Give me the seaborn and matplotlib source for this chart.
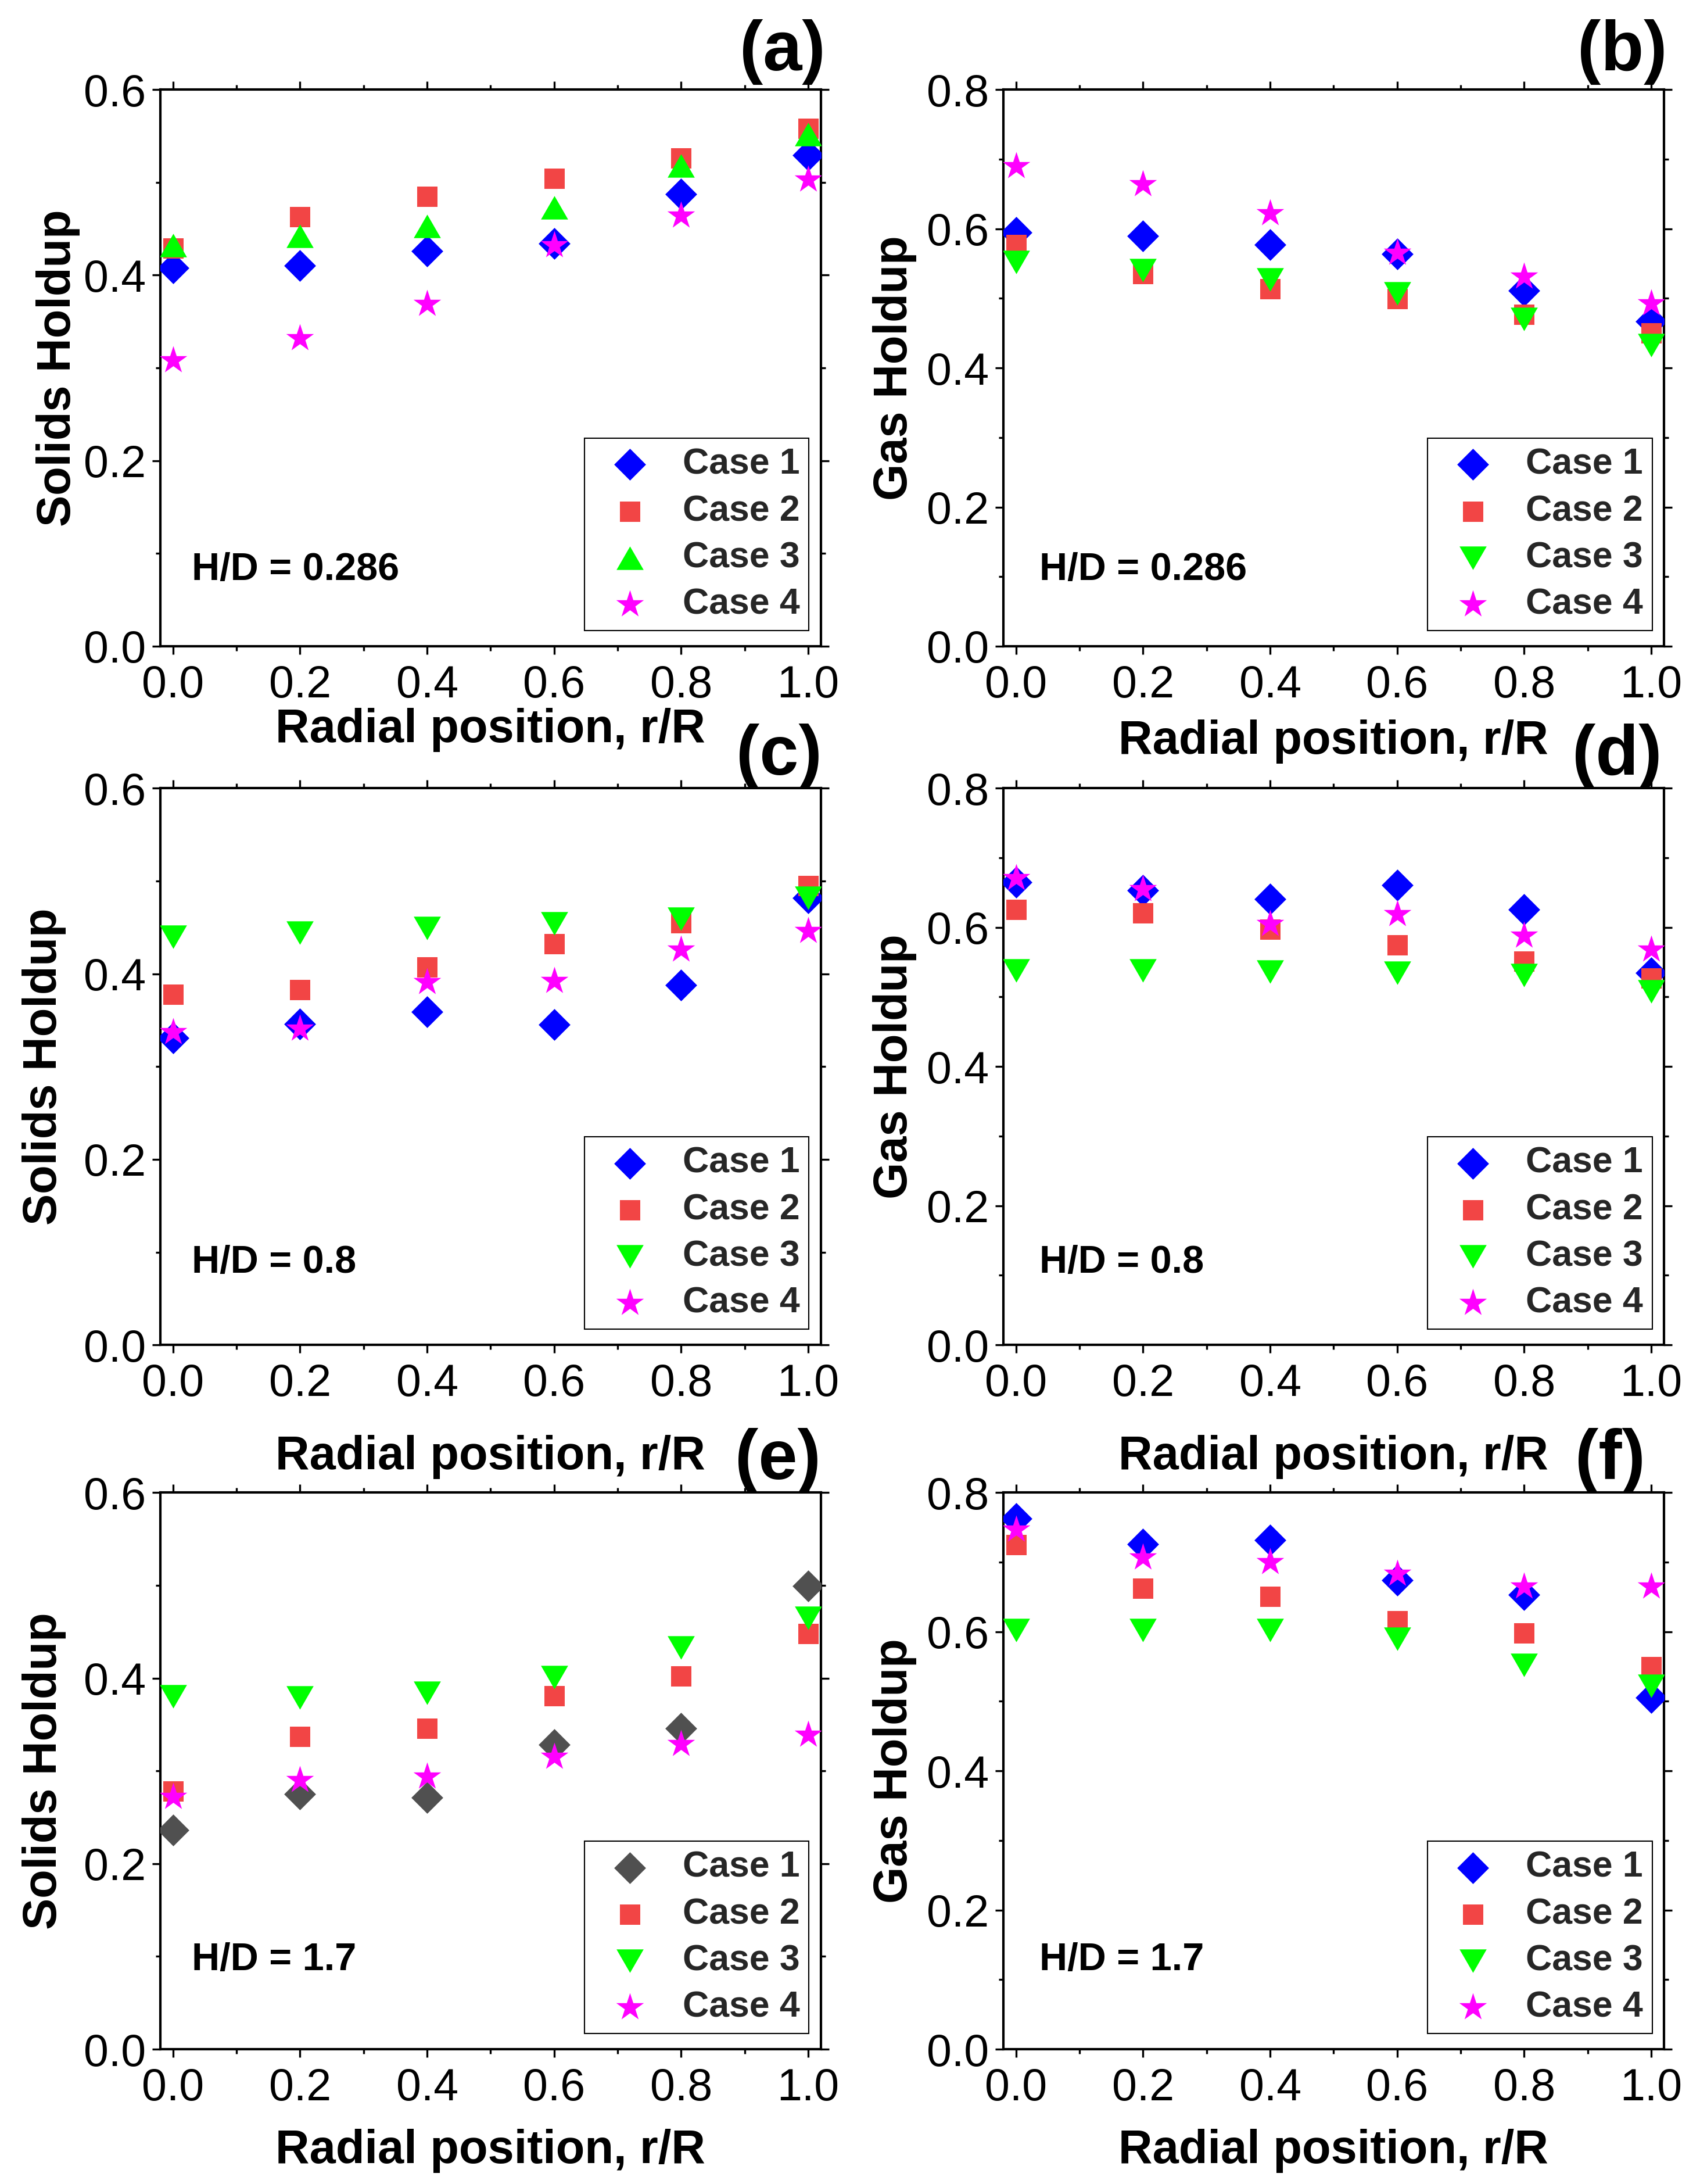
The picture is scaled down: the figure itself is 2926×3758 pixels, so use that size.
import numpy as np
import pandas as pd
import matplotlib
matplotlib.use("Agg")
import matplotlib.pyplot as plt
from matplotlib.ticker import MultipleLocator, FormatStrFormatter
import seaborn as sns

sns.set_theme(style="ticks")
plt.rcParams["font.family"] = ["Liberation Sans", "DejaVu Sans"]

r = [0.0, 0.2, 0.4, 0.6, 0.8, 1.0]
cases = ["Case 1", "Case 2", "Case 3", "Case 4"]

# (a) solids holdup, H/D = 0.286
solids_286 = {
    "Case 1": [0.408, 0.410, 0.426, 0.434, 0.487, 0.529],
    "Case 2": [0.429, 0.463, 0.485, 0.504, 0.526, 0.558],
    "Case 3": [0.432, 0.442, 0.453, 0.473, 0.518, 0.552],
    "Case 4": [0.308, 0.332, 0.369, 0.432, 0.464, 0.503],
}
# (b) gas holdup, H/D = 0.286
gas_286 = {
    "Case 1": [0.595, 0.590, 0.577, 0.564, 0.511, 0.467],
    "Case 2": [0.577, 0.535, 0.514, 0.499, 0.477, 0.450],
    "Case 3": [0.552, 0.540, 0.527, 0.507, 0.470, 0.433],
    "Case 4": [0.690, 0.664, 0.622, 0.565, 0.531, 0.493],
}
# (c) solids holdup, H/D = 0.8
solids_08 = {
    "Case 1": [0.331, 0.346, 0.359, 0.345, 0.388, 0.482],
    "Case 2": [0.378, 0.383, 0.407, 0.432, 0.455, 0.495],
    "Case 3": [0.440, 0.444, 0.449, 0.454, 0.459, 0.482],
    "Case 4": [0.337, 0.341, 0.391, 0.392, 0.426, 0.446],
}
# (d) gas holdup, H/D = 0.8
gas_08 = {
    "Case 1": [0.665, 0.653, 0.641, 0.661, 0.626, 0.535],
    "Case 2": [0.626, 0.621, 0.597, 0.575, 0.551, 0.527],
    "Case 3": [0.538, 0.538, 0.536, 0.535, 0.531, 0.508],
    "Case 4": [0.671, 0.655, 0.605, 0.619, 0.588, 0.568],
}
# (e) solids holdup, H/D = 1.7
solids_17 = {
    "Case 1": [0.236, 0.275, 0.271, 0.328, 0.346, 0.499],
    "Case 2": [0.278, 0.337, 0.346, 0.381, 0.402, 0.448],
    "Case 3": [0.380, 0.379, 0.384, 0.401, 0.433, 0.465],
    "Case 4": [0.272, 0.290, 0.294, 0.315, 0.329, 0.339],
}
# (f) gas holdup, H/D = 1.7
gas_17 = {
    "Case 1": [0.763, 0.726, 0.732, 0.674, 0.653, 0.505],
    "Case 2": [0.725, 0.662, 0.651, 0.616, 0.598, 0.550],
    "Case 3": [0.602, 0.602, 0.602, 0.590, 0.552, 0.522],
    "Case 4": [0.747, 0.707, 0.700, 0.683, 0.665, 0.665],
}

panel_data = [solids_286, gas_286, solids_08, gas_08, solids_17, gas_17]
panel_tags = ["(a)", "(b)", "(c)", "(d)", "(e)", "(f)"]
hd_text = ["H/D = 0.286", "H/D = 0.286", "H/D = 0.8", "H/D = 0.8", "H/D = 1.7", "H/D = 1.7"]
ylabels = ["Solids Holdup", "Gas Holdup"] * 3
ymaxes = [0.6, 0.8] * 3

# equilateral triangles (Origin style)
tri_up = [(-1, -0.866), (1, -0.866), (0, 0.866)]
tri_down = [(-1, 0.866), (1, 0.866), (0, -0.866)]

case_markers = {"Case 1": "D", "Case 2": "s", "Case 4": "*"}
case_sizes = {"Case 1": 9.3 ** 2, "Case 2": 8.4 ** 2, "Case 3": 11.2 ** 2, "Case 4": 12.0 ** 2}
case_colors = {"Case 1": "#0000FF", "Case 2": "#F24545", "Case 3": "#00FF00", "Case 4": "#FF00FF"}

lefts = [0.0943, 0.5902]
bottoms = [0.7041, 0.3842, 0.0617]
ax_w, ax_h = 0.3886, 0.2549
ylabel_x = [-0.121, -0.131, -0.142, -0.131, -0.142, -0.131]
xlabel_y = [-0.111, -0.132, -0.162, -0.162, -0.143, -0.143]
tag_x = [1.007, 1.005, 1.002, 0.997, 1.0, 0.972]
tag_y = [1.008, 1.008, 0.998, 0.998, 0.998, 0.998]
hd_y = [0.119, 0.119, 0.130, 0.130, 0.142, 0.142]
hd_x = [0.048, 0.055] * 3

fig = plt.figure(figsize=(2926 / 300, 3758 / 300), dpi=300)

for i, data in enumerate(panel_data):
    row, col = divmod(i, 2)
    ax = fig.add_axes([lefts[col], bottoms[row], ax_w, ax_h])

    for case in cases:
        if case == "Case 3":
            marker = tri_up if i == 0 else tri_down
        else:
            marker = case_markers[case]
        color = case_colors[case]
        if i == 4 and case == "Case 1":
            color = "#505050"
        df = pd.DataFrame({"r": r, "holdup": data[case]})
        sns.scatterplot(data=df, x="r", y="holdup", marker=marker, color=color,
                        s=case_sizes[case], linewidth=0, label=case, ax=ax, zorder=3)

    ax.set_xlim(-0.02, 1.02)
    ax.set_ylim(0, ymaxes[i])
    ax.xaxis.set_major_locator(MultipleLocator(0.2))
    ax.xaxis.set_minor_locator(MultipleLocator(0.1))
    ax.yaxis.set_major_locator(MultipleLocator(0.2))
    ax.yaxis.set_minor_locator(MultipleLocator(0.1))
    ax.xaxis.set_major_formatter(FormatStrFormatter("%.1f"))
    ax.yaxis.set_major_formatter(FormatStrFormatter("%.1f"))

    for sp in ax.spines.values():
        sp.set_visible(True)
        sp.set_linewidth(1.0)
        sp.set_color("black")
    ax.tick_params(which="both", direction="out", top=True, right=True,
                   width=0.8, color="black")
    ax.tick_params(which="major", length=3.4)
    ax.tick_params(which="minor", length=1.9)
    ax.tick_params(axis="x", which="major", labelsize=18.5, pad=4, labelcolor="black")
    ax.tick_params(axis="y", which="major", labelsize=18.5, pad=2.5, labelcolor="black")

    ax.set_xlabel("Radial position, r/R", fontsize=19.5, fontweight="bold", color="black")
    ax.set_ylabel(ylabels[i], fontsize=19.5, fontweight="bold", color="black")
    ax.xaxis.set_label_coords(0.5, xlabel_y[i])
    ax.yaxis.set_label_coords(ylabel_x[i], 0.5)

    ax.text(hd_x[i], hd_y[i], hd_text[i], transform=ax.transAxes, fontsize=16,
            fontweight="bold", ha="left", va="baseline", color="black")
    ax.text(tag_x[i], tag_y[i], panel_tags[i], transform=ax.transAxes, fontsize=29,
            fontweight="bold", ha="right", va="bottom", color="black")

    leg = ax.legend(loc="lower right", bbox_to_anchor=(0.982, 0.028), borderaxespad=0,
                    frameon=True, fancybox=False, framealpha=1, edgecolor="black",
                    prop={"weight": "bold", "size": 15}, borderpad=0.25,
                    labelspacing=0.34, handlelength=2.0, handletextpad=0.46,
                    scatterpoints=1)
    leg.get_frame().set_linewidth(0.5)

fig.savefig("out.png", dpi=300)
